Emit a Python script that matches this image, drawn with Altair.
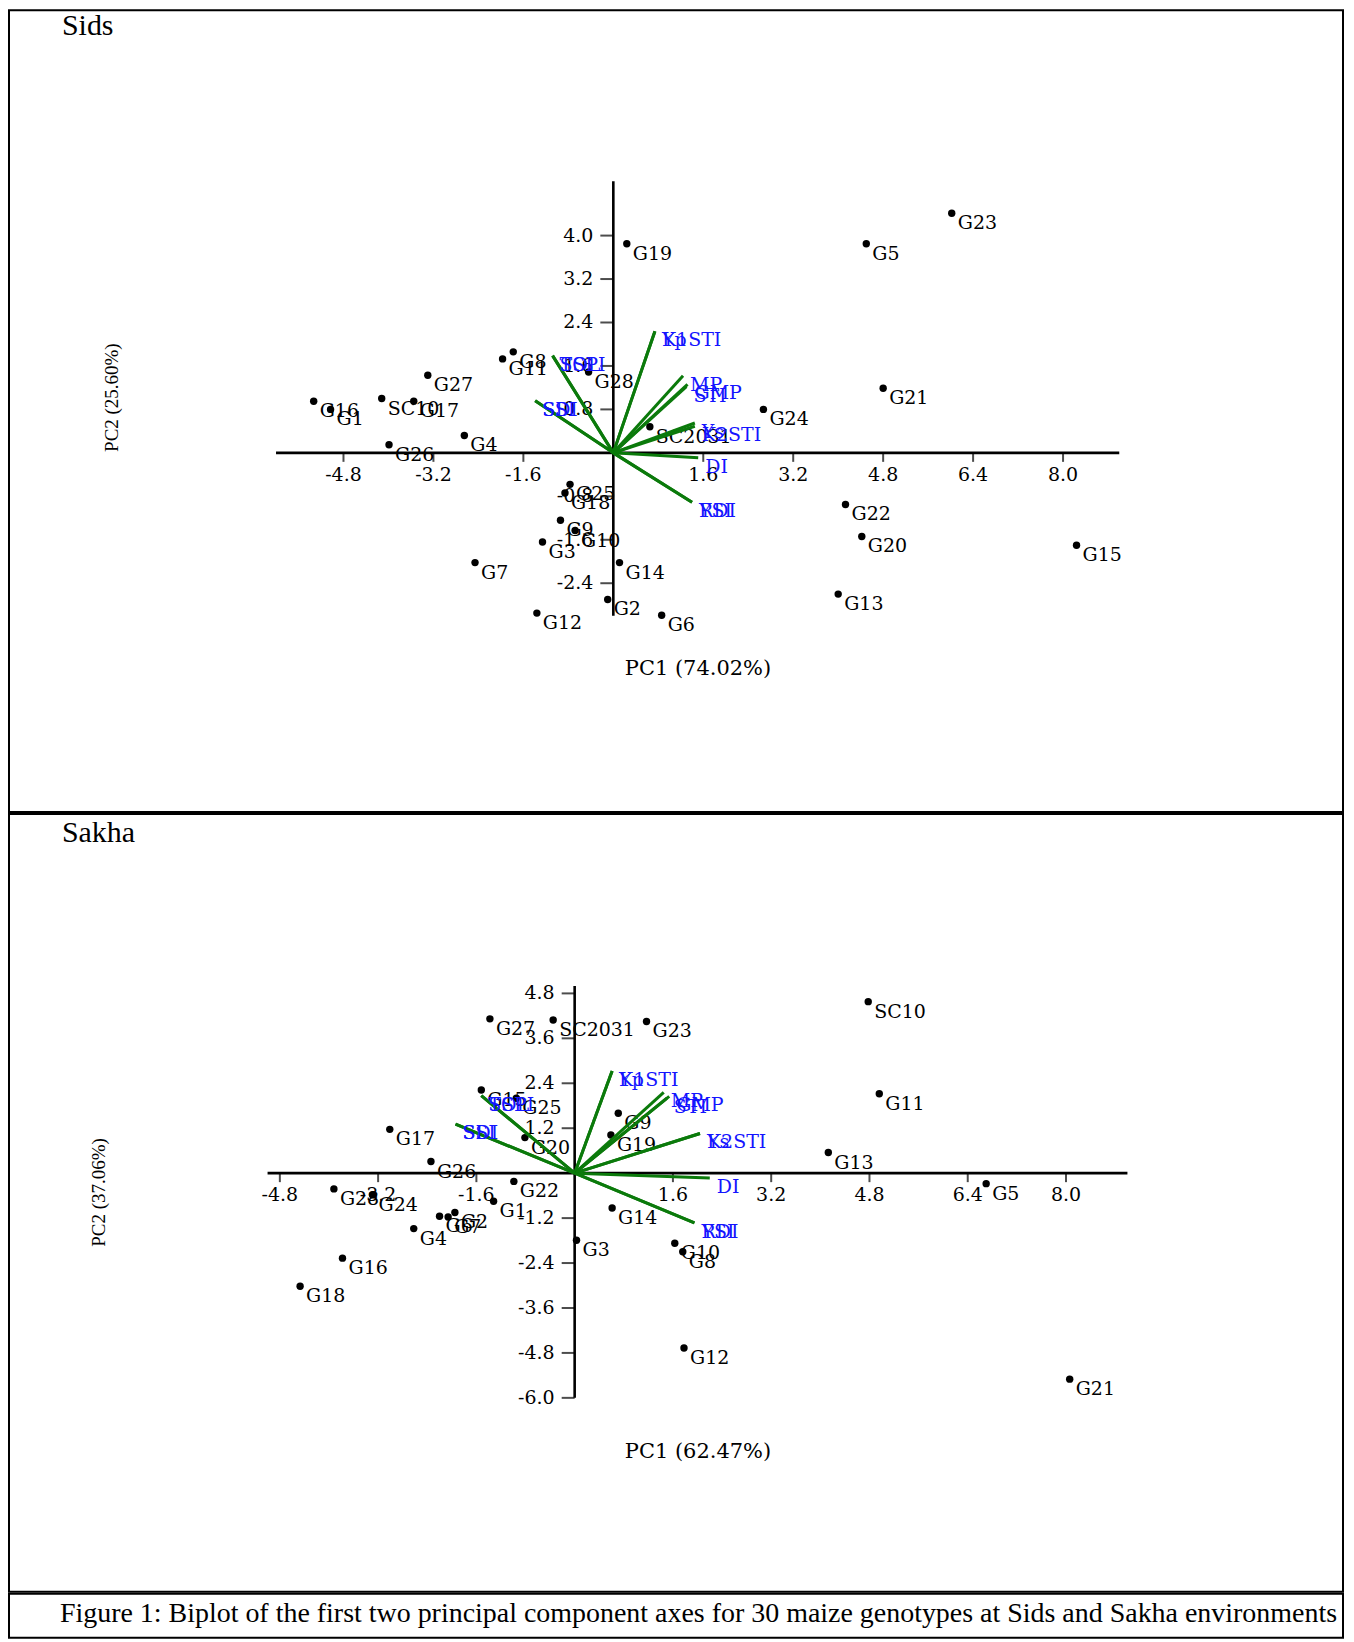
import altair as alt
import pandas as pd

# ---------------- data ----------------
genotypes = ["G1", "G2", "G3", "G4", "G5", "G6", "G7", "G8", "G9", "G10",
             "G11", "G12", "G13", "G14", "G15", "G16", "G17", "G18", "G19", "G20",
             "G21", "G22", "G23", "G24", "G25", "G26", "G27", "G28", "SC10", "SC2031"]

sids_pc1 = [-5.03, -0.10, -1.26, -2.65, 4.50, 0.86, -2.46, -1.78, -0.94, -0.68,
            -1.97, -1.36, 4.00, 0.11, 8.24, -5.33, -3.55, -0.86, 0.24, 4.42,
            4.80, 4.13, 6.02, 2.67, -0.77, -3.99, -3.30, -0.44, -4.12, 0.65]
sids_pc2 = [0.80, -2.70, -1.64, 0.32, 3.85, -2.99, -2.02, 1.86, -1.24, -1.43,
            1.73, -2.95, -2.60, -2.02, -1.70, 0.95, 0.95, -0.74, 3.85, -1.54,
            1.19, -0.95, 4.41, 0.80, -0.58, 0.15, 1.43, 1.49, 1.00, 0.48]

sakha_pc1 = [-1.32, -1.95, 0.03, -2.62, 6.70, -2.20, -2.06, 1.76, 0.71, 1.63,
             4.96, 1.78, 4.13, 0.61, -1.52, -3.78, -3.01, -4.47, 0.59, -0.81,
             8.06, -0.99, 1.17, -3.29, -0.95, -2.34, -1.38, -3.92, 4.78, -0.35]
sakha_pc2 = [-0.75, -1.05, -1.79, -1.48, -0.28, -1.15, -1.17, -2.10, 1.60, -1.87,
             2.12, -4.67, 0.55, -0.93, 2.22, -2.27, 1.17, -3.02, 1.02, 0.95,
             -5.50, -0.22, 4.05, -0.58, 2.00, 0.31, 4.12, -0.42, 4.58, 4.09]

indices = ["Yp", "K1STI", "MP", "GMP", "STI", "Ys", "K2STI", "DI", "RDI", "YSI",
           "TOL", "SSPI", "SSI", "SDI"]
sids_load1 = [0.74, 0.74, 1.24, 1.32, 1.30, 1.45, 1.45, 1.51, 1.40, 1.40,
              -1.08, -1.08, -1.39, -1.39]
sids_load2 = [2.24, 2.24, 1.42, 1.26, 1.22, 0.55, 0.49, -0.09, -0.91, -0.91,
              1.79, 1.79, 0.96, 0.96]
sakha_load1 = [0.61, 0.61, 1.45, 1.54, 1.50, 2.04, 2.04, 2.20, 1.95, 1.95,
               -1.52, -1.52, -1.94, -1.94]
sakha_load2 = [2.73, 2.73, 2.16, 2.05, 2.00, 1.06, 1.06, -0.13, -1.33, -1.33,
               2.07, 2.07, 1.31, 1.31]

sids_xticks = [-4.8, -3.2, -1.6, 1.6, 3.2, 4.8, 6.4, 8.0]
sids_yticks = [4.0, 3.2, 2.4, 1.6, 0.8, -0.8, -1.6, -2.4]
sakha_xticks = [-4.8, -3.2, -1.6, 1.6, 3.2, 4.8, 6.4, 8.0]
sakha_yticks = [4.8, 3.6, 2.4, 1.2, -1.2, -2.4, -3.6, -4.8, -6.0]

sids_axis_x = [-6.0, 9.0]
sids_axis_y = [-3.0, 5.0]
sakha_axis_x = [-5.0, 9.0]
sakha_axis_y = [-6.0, 5.0]

caption = ("Figure 1:  Biplot of the first two principal component axes for "
           "30 maize genotypes at Sids and Sakha environments")

SERIF = "Liberation Serif"
LABEL_FONT = "DejaVu Serif"
LABEL_SIZE = 19
BLUE = "#1414ff"
GREEN = "#0b7a0b"
W = 1336


def panel(name, pc1_title, pc2_title, g1, g2, l1, l2, xticks, yticks,
          axx, axy, xdom, ydom, height, name_y, pc1_pos, pc2_pos):
    xs = alt.Scale(domain=xdom, nice=False, zero=False)
    ys = alt.Scale(domain=ydom, nice=False, zero=False)
    X = lambda f: alt.X(f, type="quantitative", scale=xs, axis=None)
    Y = lambda f: alt.Y(f, type="quantitative", scale=ys, axis=None)

    axes_df = pd.DataFrame({"x": [axx[0], 0.0], "x2": [axx[1], 0.0],
                            "y": [0.0, axy[0]], "y2": [0.0, axy[1]]})
    axes = alt.Chart(axes_df).mark_rule(color="black", strokeWidth=2.6).encode(
        x=X("x"), x2="x2", y=Y("y"), y2="y2")

    xt_df = pd.DataFrame({"x": xticks, "y": [0.0] * len(xticks),
                          "t": [f"{v:.1f}" for v in xticks]})
    yt_df = pd.DataFrame({"y": yticks, "x": [0.0] * len(yticks),
                          "t": [f"{v:.1f}" for v in yticks]})
    xtick = alt.Chart(xt_df).mark_tick(orient="vertical", size=9, thickness=2,
                                       color="black", yOffset=4.5).encode(x=X("x"), y=Y("y"))
    ytick = alt.Chart(yt_df).mark_tick(orient="horizontal", size=13, thickness=2,
                                       color="black", xOffset=-6.5).encode(x=X("x"), y=Y("y"))
    xlab = alt.Chart(xt_df).mark_text(font=LABEL_FONT, fontSize=LABEL_SIZE, dy=22,
                                      align="center", baseline="middle",
                                      color="black").encode(x=X("x"), y=Y("y"), text="t:N")
    ylab = alt.Chart(yt_df).mark_text(font=LABEL_FONT, fontSize=LABEL_SIZE, dx=-20,
                                      align="right", baseline="middle",
                                      color="black").encode(x=X("x"), y=Y("y"), text="t:N")

    g_df = pd.DataFrame({"g": genotypes, "pc1": g1, "pc2": g2})
    pts = alt.Chart(g_df).mark_circle(size=55, color="black", opacity=1).encode(
        x=X("pc1"), y=Y("pc2"))
    plab = alt.Chart(g_df).mark_text(font=LABEL_FONT, fontSize=LABEL_SIZE, align="left",
                                     baseline="middle", dx=6, dy=10,
                                     color="black").encode(x=X("pc1"), y=Y("pc2"), text="g:N")

    v_df = pd.DataFrame({"idx": indices, "l1": l1, "l2": l2,
                         "o": [0.0] * len(indices)})
    vec = alt.Chart(v_df).mark_rule(color=GREEN, strokeWidth=3).encode(
        x=X("o"), y=Y("o"), x2="l1", y2="l2")
    vlab = alt.Chart(v_df).mark_text(font=LABEL_FONT, fontSize=LABEL_SIZE, align="left",
                                     baseline="middle", dx=7, dy=9,
                                     color=BLUE).encode(x=X("l1"), y=Y("l2"), text="idx:N")

    t_df = pd.DataFrame({"t": [name]})
    ptitle = alt.Chart(t_df).mark_text(font=SERIF, fontSize=30, align="left",
                                       baseline="middle", color="black").encode(
        x=alt.value(53), y=alt.value(name_y), text="t:N")
    x_df = pd.DataFrame({"t": [pc1_title]})
    xtitle = alt.Chart(x_df).mark_text(font=LABEL_FONT, fontSize=21, align="center",
                                       baseline="middle", color="black").encode(
        x=alt.value(pc1_pos[0]), y=alt.value(pc1_pos[1]), text="t:N")
    y_df = pd.DataFrame({"t": [pc2_title]})
    ytitle = alt.Chart(y_df).mark_text(font=SERIF, fontSize=19, align="center",
                                       baseline="middle", angle=270,
                                       color="black").encode(
        x=alt.value(pc2_pos[0]), y=alt.value(pc2_pos[1]), text="t:N")

    return alt.layer(axes, xtick, ytick, xlab, ylab, pts, plab, vec, vlab,
                     ptitle, xtitle, ytitle).properties(width=W, height=height)


top = panel("Sids", "PC1 (74.02%)", "PC2 (25.60%)", sids_pc1, sids_pc2,
            sids_load1, sids_load2, sids_xticks, sids_yticks,
            sids_axis_x, sids_axis_y, [-10.75, 12.98], [-6.612, 8.149], 803,
            16, (690, 660), (103, 388))
bottom = panel("Sakha", "PC1 (62.47%)", "PC2 (37.06%)", sakha_pc1, sakha_pc2,
               sakha_load1, sakha_load2, sakha_xticks, sakha_yticks,
               sakha_axis_x, sakha_axis_y, [-9.21, 12.51], [-11.18, 9.59], 779,
               19, (690, 639), (90, 379))

cap_df = pd.DataFrame({"t": [caption]})
cap = alt.Chart(cap_df).mark_text(font=SERIF, fontSize=28, align="left",
                                  baseline="middle", color="black").encode(
    x=alt.value(51), y=alt.value(20), text="t:N").properties(width=W, height=44)

chart = alt.vconcat(top, bottom, cap, spacing=0).properties(
    padding={"left": 0, "top": 0, "right": 0, "bottom": 0}
).configure_view(stroke="black", strokeWidth=2)

chart.save("out.html", embed_options={"renderer": "svg", "actions": False})
